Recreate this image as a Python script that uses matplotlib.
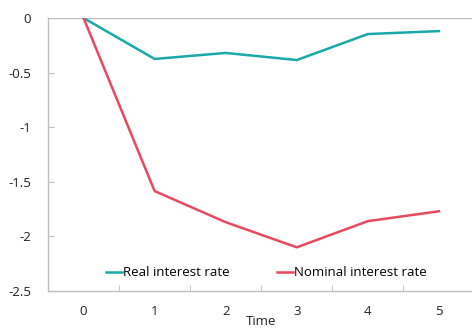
import matplotlib.pyplot as plt
from matplotlib.ticker import FixedLocator

plt.rcParams["font.family"] = ["Open Sans", "DejaVu Sans"]

periods = [0, 1, 2, 3, 4, 5]
real_rate = [0.0, -0.375, -0.32, -0.385, -0.147, -0.12]
nominal_rate = [0.0, -1.585, -1.87, -2.10, -1.86, -1.77]
y_ticks = [0, -0.5, -1, -1.5, -2, -2.5]
y_labels = ["0", "-0.5", "-1", "-1.5", "-2", "-2.5"]

TEAL = "#19A9A9"
RED = "#E8495F"
GREY = "#BFBFBF"

fig = plt.figure(figsize=(4.72, 3.33), dpi=100)
ax = fig.add_axes([48 / 472, 42 / 333, 426.5 / 472, 273 / 333])

ax.plot(periods, real_rate, color=TEAL, linewidth=1.8, label="Real interest rate")
ax.plot(periods, nominal_rate, color=RED, linewidth=1.8, label="Nominal interest rate")

ax.set_xlim(-0.5, 5.5)
ax.set_ylim(-2.5, 0)
ax.axhline(0, color=GREY, linewidth=1.0, zorder=0)

for side in ("top", "right"):
    ax.spines[side].set_visible(False)
for side in ("left", "bottom"):
    ax.spines[side].set_color(GREY)
    ax.spines[side].set_linewidth(1.0)

ax.set_yticks(y_ticks)
ax.set_yticklabels(y_labels)
ax.set_xticks(periods)
ax.xaxis.set_minor_locator(FixedLocator([0.5, 1.5, 2.5, 3.5, 4.5]))
ax.tick_params(axis="x", which="major", length=0, pad=10, labelsize=9.5, colors="#222222")
ax.tick_params(axis="x", which="minor", direction="in", length=4, color=GREY)
ax.tick_params(axis="y", direction="in", length=4, color=GREY, labelsize=9.5,
               labelcolor="#222222", pad=12)

ax.set_xlabel("Time", fontsize=9.5, color="#222222", labelpad=-2)

ax.legend(loc="lower center", ncol=2, frameon=False, fontsize=9.5,
          handlelength=1.2, handletextpad=0.1, columnspacing=3.6,
          bbox_to_anchor=(0.512, 0.0))

fig.savefig("out.png", dpi=100)
